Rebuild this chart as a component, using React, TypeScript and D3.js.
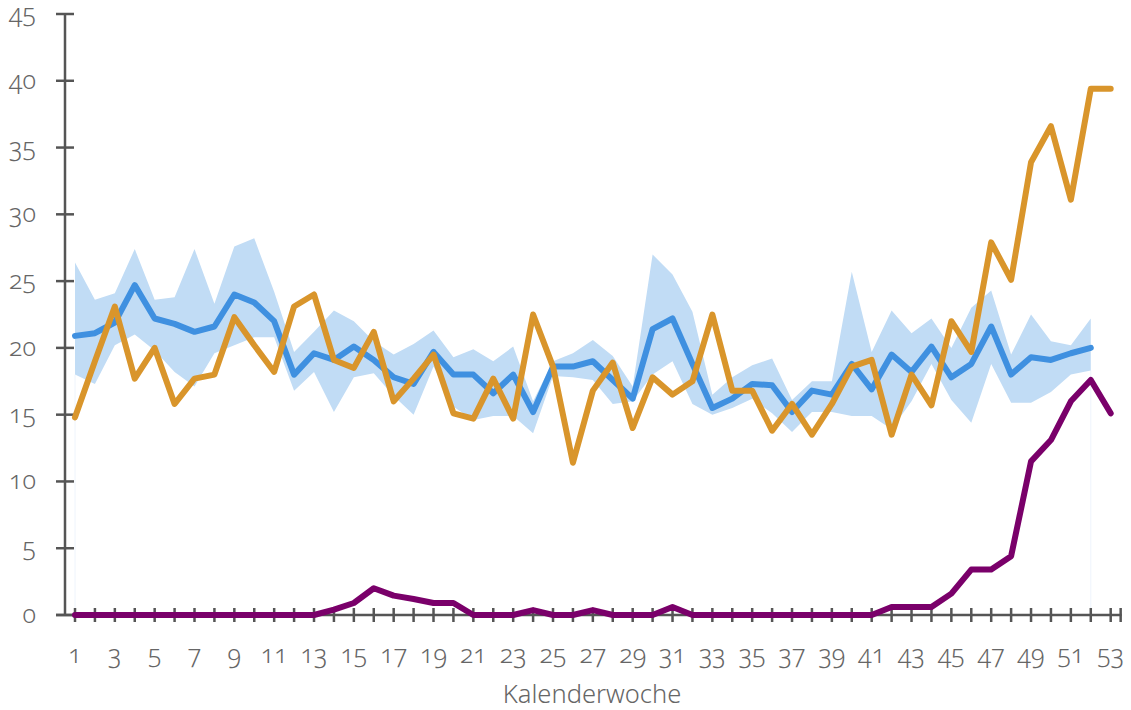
import React from 'react';
import * as d3 from 'd3';

const weeks = d3.range(1, 54);

const bandUpper = [
  26.4, 23.6, 24.1, 27.4, 23.6, 23.8, 27.4, 23.3, 27.6, 28.2,
  24.2, 19.7, 21.2, 22.8, 22.0, 20.5, 19.5, 20.3, 21.3, 19.3,
  19.9, 19.0, 20.1, 16.0, 19.0, 19.6, 20.6, 19.4, 17.1, 27.0,
  25.5, 22.7, 16.5, 17.8, 18.7, 19.2, 16.1, 17.5, 17.5, 25.7,
  19.7, 22.8, 21.1, 22.2, 20.0, 23.0, 24.3, 19.5, 22.5, 20.5,
  20.2, 22.2
];

const bandLower = [
  18.0, 17.3, 20.2, 21.0, 19.8, 18.2, 17.1, 19.6, 20.2, 20.8,
  20.8, 16.8, 18.2, 15.2, 17.8, 18.1, 16.4, 15.0, 18.6, 15.6,
  14.6, 14.9, 14.9, 13.6, 17.9, 17.8, 17.6, 15.8, 16.0, 18.0,
  19.0, 15.8, 15.0, 15.5, 16.2, 15.1, 13.7, 15.2, 15.2, 14.9,
  14.9, 13.9, 16.0, 18.8, 16.1, 14.4, 18.8, 15.9, 15.9, 16.7,
  18.0, 18.3
];

const meanLine = [
  20.9, 21.1, 21.9, 24.7, 22.2, 21.8, 21.2, 21.6, 24.0, 23.4,
  22.0, 18.0, 19.6, 19.1, 20.1, 19.1, 17.8, 17.3, 19.7, 18.0,
  18.0, 16.6, 18.0, 15.2, 18.6, 18.6, 19.0, 17.6, 16.2, 21.4,
  22.2, 18.8, 15.5, 16.2, 17.3, 17.2, 15.2, 16.8, 16.5, 18.8,
  16.9, 19.5, 18.2, 20.1, 17.8, 18.8, 21.6, 18.0, 19.3, 19.1,
  19.6, 20.0
];

const currentYear = [
  14.8, 19.0, 23.1, 17.7, 20.0, 15.8, 17.7, 18.0, 22.3, 20.2,
  18.2, 23.1, 24.0, 19.1, 18.5, 21.2, 16.0, 17.7, 19.5, 15.1,
  14.7, 17.7, 14.7, 22.5, 18.6, 11.4, 16.8, 18.9, 14.0, 17.8,
  16.5, 17.5, 22.5, 16.8, 16.8, 13.8, 15.8, 13.5, 15.8, 18.6,
  19.1, 13.5, 18.0, 15.7, 22.0, 19.7, 27.9, 25.1, 33.9, 36.6,
  31.1, 39.4, 39.4
];

const covid = [
  0, 0, 0, 0, 0, 0, 0, 0, 0, 0,
  0, 0, 0, 0.4, 0.9, 2.0, 1.45, 1.2, 0.9, 0.9,
  0, 0, 0, 0.37, 0, 0, 0.37, 0, 0, 0,
  0.6, 0, 0, 0, 0, 0, 0, 0, 0, 0,
  0, 0.6, 0.6, 0.6, 1.6, 3.4, 3.4, 4.4, 11.5, 13.1,
  16.0, 17.6, 15.1
];

const yTicks = [0, 5, 10, 15, 20, 25, 30, 35, 40, 45];
const xLabels = weeks.filter((w) => w % 2 === 1);
const xTitle = 'Kalenderwoche';

const W = 1131;
const H = 710;
const FONT = '"Noto Sans", Lato, sans-serif';

const labelStyle: React.CSSProperties = {
  fontVariantNumeric: 'oldstyle-nums',
  fontFeatureSettings: '"onum" 1',
};

export default function App() {
  const x = d3.scaleLinear().domain([1, 53]).range([75, 1110.7]);
  const y = d3.scaleLinear().domain([0, 45]).range([615, 14]);
  const axisX = 65;

  const band = d3.area<number>()
    .x((_, i) => x(weeks[i]))
    .y0((_, i) => y(bandLower[i]))
    .y1((d) => y(d));

  const line = d3.line<number>()
    .x((_, i) => x(weeks[i]))
    .y((d) => y(d));

  const lastBand = bandUpper.length - 1;

  return (
    <div style={{ position: 'fixed', left: 0, top: 0 }}>
      <svg width={W} height={H} style={{ display: 'block', background: '#fff' }}>
        {/* faint edges of the band area */}
        <line x1={x(1)} x2={x(1)} y1={y(bandLower[0])} y2={y(0)} stroke="#eef4fc" strokeWidth={1} />
        <line x1={x(weeks[lastBand])} x2={x(weeks[lastBand])} y1={y(bandLower[lastBand])} y2={y(0)} stroke="#eef4fc" strokeWidth={1} />

        <path d={band(bandUpper) ?? ''} fill="#c1dcf5" />

        {/* y axis */}
        <line x1={axisX} x2={axisX} y1={y(45)} y2={y(0)} stroke="#555" strokeWidth={2.5} />
        {yTicks.map((t) => (
          <g key={t}>
            <line x1={56} x2={74} y1={y(t)} y2={y(t)} stroke="#555" strokeWidth={2.5} />
            <text
              x={36}
              y={y(t) + 8}
              textAnchor="end"
              fontSize={25}
              fontWeight={300}
              fill="#666"
              fontFamily={FONT}
              style={labelStyle}
            >
              {t}
            </text>
          </g>
        ))}

        {/* x axis */}
        <line x1={56} x2={x(53.5) + 1} y1={y(0)} y2={y(0)} stroke="#555" strokeWidth={2.5} />
        {[...weeks, 53.5].map((w) => (
          <line key={w} x1={x(w)} x2={x(w)} y1={y(0) - 7} y2={y(0) + 7} stroke="#555" strokeWidth={2.5} />
        ))}
        {xLabels.map((w) => (
          <text
            key={w}
            x={x(w)}
            y={663}
            textAnchor="middle"
            fontSize={25}
            fontWeight={300}
            fill="#666"
            fontFamily={FONT}
            style={labelStyle}
          >
            {w}
          </text>
        ))}
        <text
          x={592}
          y={703}
          textAnchor="middle"
          fontSize={25.5}
          fontWeight={300}
          fill="#666"
          fontFamily={FONT}
        >
          {xTitle}
        </text>

        <path d={line(meanLine) ?? ''} fill="none" stroke="#3f90e0" strokeWidth={6} strokeLinejoin="round" strokeLinecap="round" />
        <path d={line(currentYear) ?? ''} fill="none" stroke="#d9952b" strokeWidth={6} strokeLinejoin="round" strokeLinecap="round" />
        <path d={line(covid) ?? ''} fill="none" stroke="#7a006a" strokeWidth={6} strokeLinejoin="round" strokeLinecap="round" />
      </svg>
    </div>
  );
}
